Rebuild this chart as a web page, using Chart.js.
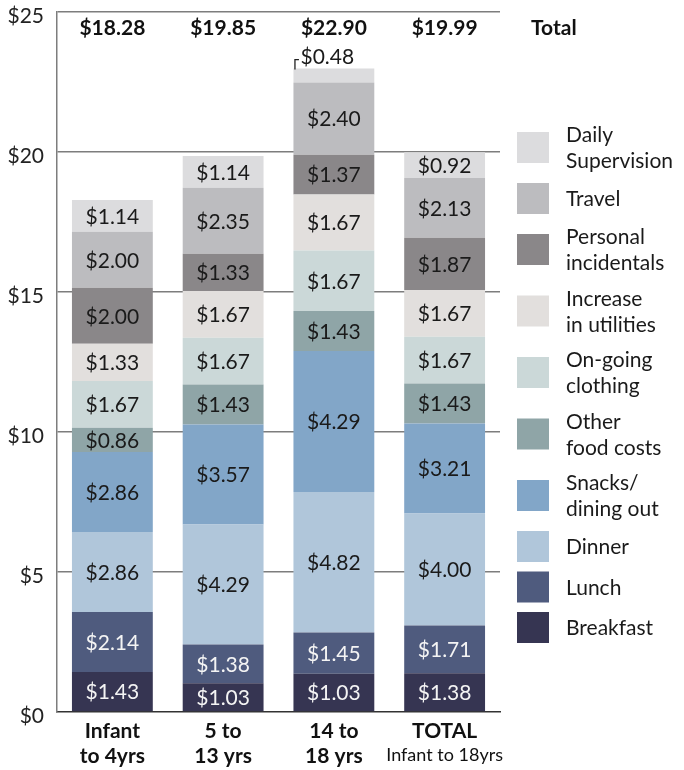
<!DOCTYPE html>
<html>
<head>
<meta charset="utf-8">
<script src="https://cdn.jsdelivr.net/npm/chart.js@4.4.1/dist/chart.umd.min.js"></script>
<style>
  html, body { margin: 0; padding: 0; background: #ffffff; }
  #wrap { width: 684px; height: 770px; }
</style>
</head>
<body>
<div id="wrap"><canvas id="c" width="684" height="770"></canvas></div>
<script>
// ---- Data ----
const categories = [['Infant', 'to 4yrs'], ['5 to', '13 yrs'], ['14 to', '18 yrs'], ['TOTAL', 'Infant to 18yrs']];
const totals = [18.28, 19.85, 22.90, 19.99];
const yTicks = [0, 5, 10, 15, 20, 25];

// series, bottom to top (drawn heights)
const breakfast = [1.43, 1.03, 1.37, 1.38];
const lunch     = [2.14, 1.38, 1.47, 1.71];
const dinner    = [2.86, 4.29, 5.02, 4.00];
const snacks    = [2.86, 3.57, 5.03, 3.21];
const otherFood = [0.86, 1.43, 1.43, 1.43];
const clothing  = [1.67, 1.67, 2.16, 1.67];
const utilities = [1.33, 1.67, 2.00, 1.67];
const personal  = [2.00, 1.33, 1.42, 1.87];
const travel    = [2.00, 2.35, 2.58, 2.13];
const daily     = [1.14, 1.14, 0.50, 0.92];

// printed labels in the "14 to 18 yrs" bar (differ from its drawn heights), bottom to top
const printed14to18 = [1.03, 1.45, 4.82, 4.29, 1.43, 1.67, 1.67, 1.37, 2.40, 0.48];

const seriesNames = [['Breakfast'], ['Lunch'], ['Dinner'], ['Snacks/', 'dining out'], ['Other', 'food costs'],
  ['On-going', 'clothing'], ['Increase', 'in utilities'], ['Personal', 'incidentals'], ['Travel'], ['Daily', 'Supervision']];
const seriesData = [breakfast, lunch, dinner, snacks, otherFood, clothing, utilities, personal, travel, daily];
const seriesColors = ['#363552', '#4f5b7e', '#b0c6da', '#82a6c8', '#8fa5a7', '#cbd8d8', '#e2dfdd', '#8a8789', '#bcbcbf', '#dcdcde'];
const seriesTextColors = ['#f4f4f4', '#f4f4f4', '#1a1a1a', '#1a1a1a', '#1a1a1a', '#1a1a1a', '#1a1a1a', '#1a1a1a', '#1a1a1a', '#1a1a1a'];

const FONT = 'Lato, "Open Sans", sans-serif';

const datasets = seriesData.map((d, i) => ({
  label: seriesNames[i].join(' '),
  data: d,
  backgroundColor: seriesColors[i],
  borderWidth: 0,
  barPercentage: 0.73,
  categoryPercentage: 1.0
}));

const money = v => '$' + v.toFixed(2);

const labelPlugin = {
  id: 'labels',
  afterDatasetsDraw(chart) {
    const ctx = chart.ctx;
    ctx.save();
    ctx.font = '21px ' + FONT;
    ctx.textBaseline = 'middle';
    chart.data.datasets.forEach((ds, di) => {
      const meta = chart.getDatasetMeta(di);
      meta.data.forEach((bar, i) => {
        const val = (i === 2) ? printed14to18[di] : ds.data[i];
        const txt = money(val);
        const top = Math.min(bar.y, bar.base);
        const h = Math.abs(bar.base - bar.y);
        const left = bar.x - bar.width / 2;
        if (h < 20) {
          // small segment: label placed above with a bracket
          ctx.strokeStyle = '#222';
          ctx.lineWidth = 1.3;
          ctx.beginPath();
          ctx.moveTo(left + 1.5, top + 1);
          ctx.lineTo(left + 1.5, top - 9);
          ctx.lineTo(left + 5.5, top - 9);
          ctx.stroke();
          ctx.fillStyle = '#1a1a1a';
          ctx.textAlign = 'left';
          ctx.fillText(txt, left + 7, top - 11);
        } else {
          ctx.fillStyle = seriesTextColors[di];
          ctx.textAlign = 'center';
          ctx.fillText(txt, bar.x, top + h / 2 + 1);
        }
      });
    });
    ctx.restore();
  },
  afterDraw(chart) {
    const ctx = chart.ctx;
    const xs = chart.scales.x;
    ctx.save();
    // totals row
    ctx.fillStyle = '#111';
    ctx.textBaseline = 'middle';
    ctx.font = 'bold 21px ' + FONT;
    ctx.textAlign = 'center';
    totals.forEach((t, i) => ctx.fillText(money(t), xs.getPixelForValue(i), 28));
    ctx.textAlign = 'left';
    ctx.fillText('Total', 531, 28);

    // category labels
    categories.forEach((lines, i) => {
      const x = xs.getPixelForValue(i);
      ctx.textAlign = 'center';
      ctx.font = 'bold 21px ' + FONT;
      ctx.fillText(lines[0], x, 731);
      if (i === categories.length - 1) {
        ctx.font = '18px ' + FONT;
        ctx.fillText(lines[1], x, 755);
      } else {
        ctx.fillText(lines[1], x, 756);
      }
    });

    // legend (top to bottom = reverse stacking order)
    const sqX = 517, sq = 31, txtX = 566, lineH = 26, gap = 9.5;
    let prevHalf = null;
    let cy = 147.5;
    ctx.font = '21px ' + FONT;
    ctx.textAlign = 'left';
    for (let k = seriesNames.length - 1; k >= 0; k--) {
      const lines = seriesNames[k];
      const half = lines.length === 2 ? 26 : 15.5;
      if (prevHalf !== null) cy += prevHalf + gap + half;
      ctx.fillStyle = seriesColors[k];
      ctx.fillRect(sqX, cy - sq / 2, sq + 1, sq);
      ctx.fillStyle = '#1a1a1a';
      const startY = cy - (lines.length - 1) * lineH / 2;
      lines.forEach((ln, j) => ctx.fillText(ln, txtX, startY + j * lineH + 1));
      prevHalf = half;
    }
    ctx.restore();
  }
};

new Chart(document.getElementById('c'), {
  type: 'bar',
  data: { labels: categories.map(c => c.join(' ')), datasets },
  options: {
    responsive: false,
    animation: false,
    layout: { padding: { left: 0, right: 184, top: 12, bottom: 58 } },
    plugins: { legend: { display: false }, tooltip: { enabled: false } },
    scales: {
      x: {
        stacked: true,
        ticks: { display: false },
        grid: { display: false },
        border: { display: true, color: '#333', width: 1.5 },
        afterFit(s) { s.height = 0; s.paddingLeft = 0; s.paddingRight = 0; }
      },
      y: {
        stacked: true,
        min: 0,
        max: 25,
        afterBuildTicks(s) { s.ticks = yTicks.map(v => ({ value: v })); },
        ticks: {
          callback: v => '$' + v,
          color: '#222',
          font: { family: FONT, size: 21 },
          padding: 13,
          labelOffset: 4
        },
        grid: {
          color: c => (c.tick && c.tick.value === 0) ? 'rgba(0,0,0,0)' : '#7d7d7d',
          lineWidth: 1.5,
          drawTicks: false
        },
        border: { display: true, color: '#7d7d7d', width: 1.5 },
        afterFit(s) { s.width = 57; s.paddingTop = 0; s.paddingBottom = 0; }
      }
    }
  },
  plugins: [labelPlugin]
});
</script>
</body>
</html>
